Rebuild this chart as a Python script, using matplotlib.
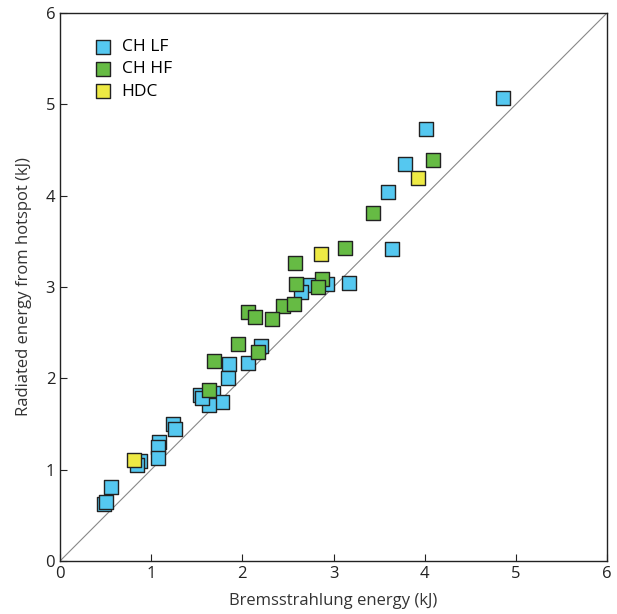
import numpy as np
import matplotlib.pyplot as plt

plt.rcParams['font.family'] = ['Open Sans', 'DejaVu Sans']

# CH LF (low foot) shots
lf_x = [4.86, 4.01, 3.78, 3.60, 3.64, 3.17, 2.93, 2.74, 2.64, 2.20, 1.85, 2.06,
        1.84, 1.54, 1.68, 1.78, 1.63, 1.56, 1.24, 1.26, 1.09, 1.07, 1.07, 0.88,
        0.84, 0.56, 0.48, 0.50]
lf_y = [5.07, 4.73, 4.35, 4.04, 3.42, 3.04, 3.03, 3.02, 2.95, 2.35, 2.16, 2.17,
        2.00, 1.82, 1.84, 1.74, 1.71, 1.78, 1.50, 1.44, 1.30, 1.25, 1.13, 1.09,
        1.05, 0.81, 0.62, 0.65]

# CH HF (high foot) shots
hf_x = [4.09, 3.43, 3.13, 2.58, 2.59, 2.87, 2.83, 2.45, 2.57, 2.06, 2.14, 2.33,
        1.95, 2.17, 1.69, 1.63]
hf_y = [4.39, 3.81, 3.43, 3.26, 3.03, 3.09, 3.00, 2.79, 2.81, 2.73, 2.67, 2.65,
        2.38, 2.29, 2.19, 1.87]

# HDC shots
hdc_x = [3.93, 2.86, 0.81]
hdc_y = [4.19, 3.36, 1.11]

fig = plt.figure(figsize=(6.17, 6.14), dpi=100)
ax = fig.add_axes([60 / 617, 1 - 561 / 614, 547 / 617, 548 / 614])

ax.plot([0, 6], [0, 6], color='#888888', lw=0.8, zorder=1)

kw = dict(marker='s', s=105, edgecolors='#222222', linewidths=1.0, zorder=3)
ax.scatter(lf_x, lf_y, c='#55c8f0', label='CH LF', **kw)
ax.scatter(hf_x, hf_y, c='#66bb44', label='CH HF', **kw)
ax.scatter(hdc_x, hdc_y, c='#eeea44', label='HDC', **kw)

ax.set_xlim(0, 6)
ax.set_ylim(0, 6)
ax.set_xticks(range(7))
ax.set_yticks(range(7))
ax.tick_params(direction='in', labelsize=12, colors='#222222', length=5, width=0.8)
for s in ax.spines.values():
    s.set_linewidth(1.0)
    s.set_color('#222222')

ax.set_xlabel('Bremsstrahlung energy (kJ)', fontsize=12, color='#333333', labelpad=8)
ax.set_ylabel('Radiated energy from hotspot (kJ)', fontsize=12, color='#333333', labelpad=10)

ax.legend(loc='upper left', frameon=False, fontsize=12.5, handletextpad=0.05,
          borderaxespad=1.1, labelspacing=0.35, markerscale=0.95,
          bbox_to_anchor=(0.0, 1.0))

fig.savefig('out.png', dpi=100)
